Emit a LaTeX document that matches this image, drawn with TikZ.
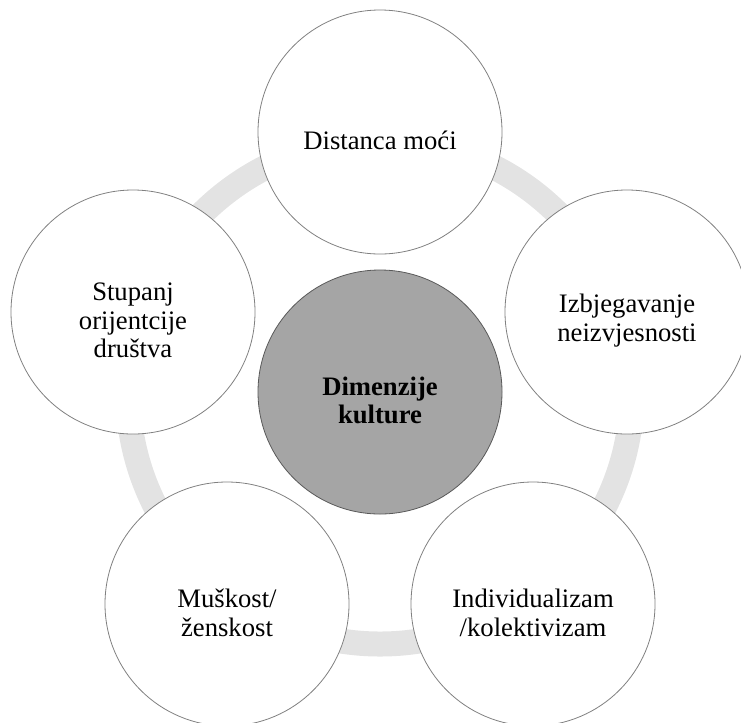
\documentclass[tikz,border=0pt]{standalone}
\usepackage{fontspec}
\setmainfont{Liberation Serif}
\usepackage[]{xcolor}
\usepackage[]{tikz}
\usetikzlibrary{positioning}
\definecolor{ringgray}{HTML}{E3E3E3}
\definecolor{coregray}{HTML}{A5A5A5}
\tikzset{dimcircle/.style={circle,draw=black!50,fill=white,line width=0.6pt,minimum size=183pt,inner sep=0pt}}
\tikzset{corecircle/.style={dimcircle,fill=coregray,draw=black!65}}
\tikzset{dimlabel/.style={align=center,yshift=-6.5pt,inner sep=0pt,font=\fontsize{20}{21.3}\selectfont}}
\tikzset{corelabel/.style={dimlabel,font=\fontsize{20}{21.3}\selectfont\bfseries}}

\begin{document}
\begin{tikzpicture}[x=0.75pt,y=-0.75pt] %1 px = 0.75 pt
            \useasboundingbox (0,0) rectangle (741,722);
            \clip (0,0) rectangle (741,722);
            \draw[ringgray,line width=18.75pt] (380,392) circle (189pt);
            \node[corecircle,label={[corelabel]center:{Dimenzije\\kulture}}] (core) at (380,392) {};
            \node[dimcircle,label={[dimlabel]center:{Distanca moći}}] (moc) at (380,132) {};
            \node[dimcircle,label={[dimlabel]center:{Izbjegavanje\\neizvjesnosti}}] (neizv) at (627,312) {};
            \node[dimcircle,label={[dimlabel]center:{Individualizam\\/kolektivizam}}] (indiv) at (533,604) {};
            \node[dimcircle,label={[dimlabel]center:{Muškost/\\ženskost}}] (musk) at (227,604) {};
            \node[dimcircle,label={[dimlabel]center:{Stupanj\\orijentcije\\društva}}] (orij) at (133,312) {};
        \end{tikzpicture}
\end{document}
